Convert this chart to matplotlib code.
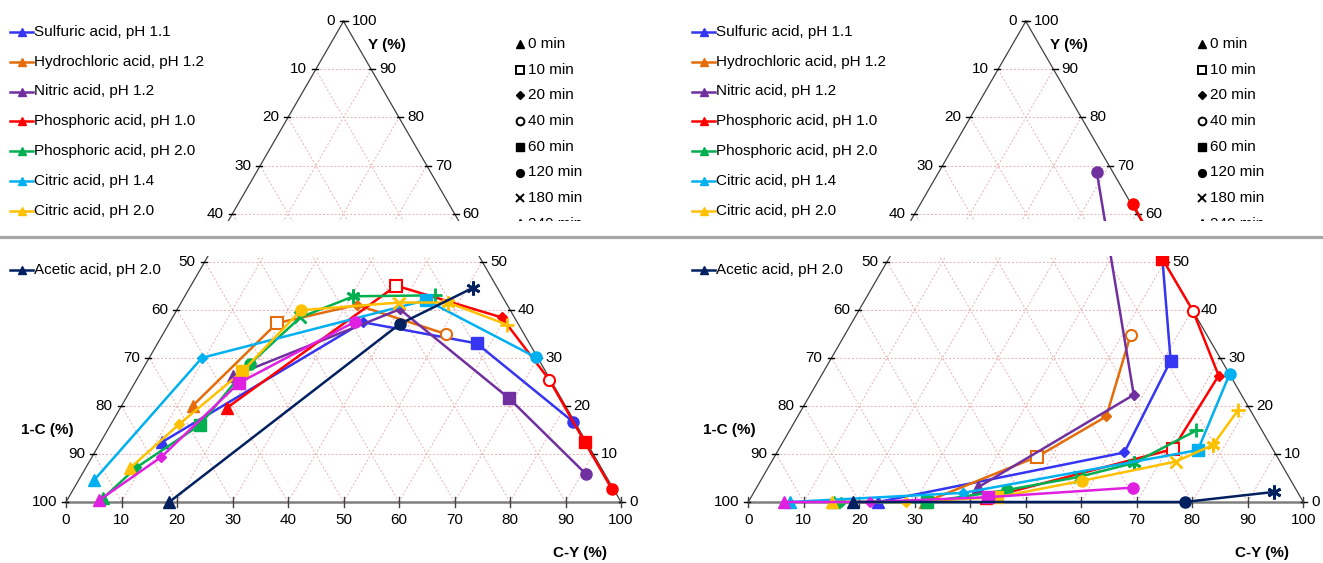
import matplotlib
matplotlib.use('Agg')
import matplotlib.pyplot as plt
from matplotlib.lines import Line2D
from matplotlib.patches import Rectangle
import numpy as np

plt.rcParams['font.family'] = ['Liberation Sans', 'DejaVu Sans']
plt.rcParams['font.size'] = 11

W, H = 1323, 563
S3 = np.sqrt(3) / 2

# series (the 8th one sits in the part of the picture that is hidden)
names = ['Sulfuric acid, pH 1.1', 'Hydrochloric acid, pH 1.2', 'Nitric acid, pH 1.2',
         'Phosphoric acid, pH 1.0', 'Phosphoric acid, pH 2.0', 'Citric acid, pH 1.4',
         'Citric acid, pH 2.0', '', 'Acetic acid, pH 2.0']
colors = ['#3535F2', '#E46C0A', '#7030A0', '#FF0000', '#00B050', '#00B0F0',
          '#FFC000', '#E020E0', '#002060']
legend_times = [0, 10, 20, 40, 60, 120, 180, 240]

# left diagram: sampling time (min), C-Y (%), Y (%)
left_t = [[0, 20, 60, 120], [0, 10, 20, 40], [0, 20, 60, 120], [0, 10, 20, 40, 60, 120],
          [0, 20, 60, 120, 180, 240, 300], [0, 20, 60, 120],
          [0, 20, 60, 120, 180, 240, 300], [0, 20, 60, 120], [0, 120, 240]]
left_cy = [[11.1, 34.8, 57.5, 83.0], [12.8, 19.4, 31.9, 51.1], [17.0, 40.1, 69.0, 90.8],
           [19.2, 37.0, 59.3, 74.4, 87.3, 97.0], [6.3, 9.1, 16.1, 18.8, 23.0, 30.4, 45.0],
           [2.8, 9.5, 43.9, 69.6], [8.0, 12.3, 18.2, 22.4, 39.3, 48.1, 61.0],
           [5.8, 12.5, 18.8, 33.3], [18.6, 41.6, 51.1]]
left_y = [[12.5, 37.4, 33.0, 16.7], [20.0, 37.2, 41.0, 34.9], [26.2, 40.1, 21.6, 5.8],
          [19.6, 45.0, 38.4, 25.4, 12.4, 2.7], [0.8, 7.2, 16.0, 28.8, 38.4, 42.8, 43.0],
          [4.6, 30.0, 42.0, 30.1], [7.0, 16.2, 27.2, 39.9, 41.5, 41.5, 36.9],
          [0.4, 9.4, 24.8, 37.5], [0.0, 37.0, 44.6]]

# right diagram
right_t = [[0, 20, 60, 120], [0, 10, 20, 40], [0, 20, 120], [0, 10, 20, 40, 60, 120],
           [0, 20, 60, 120, 180, 240, 300], [0, 20, 60, 120],
           [0, 20, 60, 120, 180, 240, 300], [0, 20, 60, 120], [0, 120, 240]]
right_cy = [[23.4, 62.6, 61.4, 46.8], [31.9, 47.3, 55.6, 51.5], [39.9, 58.3, 28.5],
            [42.5, 71.0, 71.6, 60.2, 49.3, 38.4], [15.5, 16.7, 32.2, 45.4, 56.9, 65.4, 73.3],
            [7.5, 37.8, 75.6, 73.4], [15.0, 28.4, 44.4, 57.9, 72.8, 77.8, 78.7],
            [6.5, 22.0, 42.6, 67.9], [18.8, 78.6, 93.7]]
right_y = [[0.0, 10.3, 29.4, 55.0], [0.0, 9.4, 17.8, 34.8], [3.1, 22.3, 68.6],
           [0.8, 11.0, 26.3, 39.8, 50.6, 61.9], [0.0, 0.0, 0.0, 2.5, 5.2, 8.1, 14.9],
           [0.0, 1.9, 10.8, 26.7], [0.0, 0.0, 1.0, 4.4, 8.4, 11.9, 19.2],
           [0.0, 0.0, 1.0, 3.0], [0.0, 0.0, 2.1]]

ticks = np.arange(0, 101, 10)

SC = 5.55      # pixels per percent
BOT = 502      # pixel row of the bottom axis
P = 1 / SC     # one pixel in data units


def marker_style(t, c):
    white = dict(mfc='white', mec=c, mew=1.5)
    full = dict(mfc=c, mec=c, mew=1)
    if t == 0:
        return dict(marker='^', ms=8, **full)
    if t == 10:
        return dict(marker='s', ms=8, **white)
    if t == 20:
        return dict(marker='D', ms=5.5, **full)
    if t == 40:
        return dict(marker='o', ms=8, **white)
    if t == 60:
        return dict(marker='s', ms=8, **full)
    if t == 120:
        return dict(marker='o', ms=8, **full)
    if t == 180:
        return dict(marker='x', ms=9, mfc=c, mec=c, mew=2)
    if t == 240:
        return dict(marker=(6, 2, 0), ms=10, mfc=c, mec=c, mew=2)
    return dict(marker='+', ms=10, mfc=c, mec=c, mew=2)


def to_xy(cy, y):
    cy = np.asarray(cy, float)
    y = np.asarray(y, float)
    return cy + y / 2, y * S3


def draw_ternary(ax, tt, cys, ys):
    grid = dict(color='#E8B0B0', lw=0.7, ls=(0, (2, 2)), zorder=1)
    for k in ticks[1:-1]:
        ax.plot(*to_xy([0, 100 - k], [k, k]), **grid)
        ax.plot(*to_xy([k, k], [0, 100 - k]), **grid)
        ax.plot(*to_xy([100 - k, 0], [0, 100 - k]), **grid)
    ax.plot(*to_xy([0, 0], [0, 100]), color='#404040', lw=0.9, zorder=2)
    ax.plot(*to_xy([100, 0], [0, 100]), color='#404040', lw=0.9, zorder=2)
    ax.plot(*to_xy([0, 100], [0, 0]), color='#7F7F7F', lw=1.8, zorder=2)
    for k in ticks:
        # left edge: 1-C
        x, h = to_xy(0, k)
        ax.plot([x - 4 * P, x + 2 * P], [h, h], color='black', lw=1, zorder=2)
        ax.text(x - 9 * P, h, str(100 - k), ha='right', va='center')
        # right edge: Y
        x, h = to_xy(100 - k, k)
        ax.plot([x - 2 * P, x + 4 * P], [h, h], color='black', lw=1, zorder=2)
        ax.text(x + 8 * P, h, str(k), ha='left', va='center')
        # bottom: C-Y
        ax.plot([k, k], [-5 * P, 5 * P], color='#404040', lw=1, zorder=2)
        ax.text(k, -18 * P, str(k), ha='center', va='center')
    for i in range(len(tt)):
        x, h = to_xy(cys[i], ys[i])
        ax.plot(x, h, color=colors[i], lw=1.8, zorder=3 + i)
        for j in range(len(tt[i])):
            ax.plot(x[j], h[j], ls='none', zorder=3 + i, **marker_style(tt[i][j], colors[i]))
    bold = dict(fontweight='bold', ha='center', va='center')
    ax.text(57.8, 82.3, 'Y (%)', **bold)
    ax.text(-3.4, 13.0, '1-C (%)', **bold)
    ax.text(92.6, -9.2, 'C-Y (%)', **bold)


fig = plt.figure(figsize=(W / 100, H / 100), dpi=100)

panels = [(0, 661.5, 66.0, left_t, left_cy, left_y),
          (661.5, 1323, 748.3, right_t, right_cy, right_y)]
for (a, b, x0, tt, cys, ys) in panels:
    ax = fig.add_axes([a / W, 0, (b - a) / W, 1])
    ax.set_xlim((a - x0) / SC, (b - x0) / SC)
    ax.set_ylim((BOT - H) / SC, BOT / SC)
    ax.axis('off')
    draw_ternary(ax, tt, cys, ys)

    dx = x0 - 66.0
    # series legend
    for i, nm in enumerate(names):
        fy = 1 - (32 + i * 29.75) / H
        fig.add_artist(Line2D([(10 + dx) / W, (33 + dx) / W], [fy, fy], color=colors[i],
                              lw=1.8))
        fig.add_artist(Line2D([(21.5 + dx) / W], [fy], color=colors[i], marker='^', ms=5.5,
                              ls='none'))
        fig.text((34 + dx) / W, fy, nm, ha='left', va='center')

    # time legend
    for i, t in enumerate(legend_times):
        fy = 1 - (44 + i * 25.7) / H
        st = marker_style(t, 'black')
        st['ms'] = st['ms'] * 0.7
        st['mew'] = min(st['mew'], 1.4)
        fig.add_artist(Line2D([(520 + dx) / W], [fy], ls='none', **st))
        fig.text((528 + dx) / W, fy, f'{t} min', ha='left', va='center')

# hidden band with the grey separator
fig.add_artist(Rectangle((0, 1 - 256 / H), 1, 35 / H, transform=fig.transFigure,
                         facecolor='white', edgecolor='none', zorder=50))
fig.add_artist(Line2D([0, 1], [1 - 237 / H] * 2, color='#A6A6A6', lw=2.3, zorder=51))

fig.savefig('out.png', dpi=100)
